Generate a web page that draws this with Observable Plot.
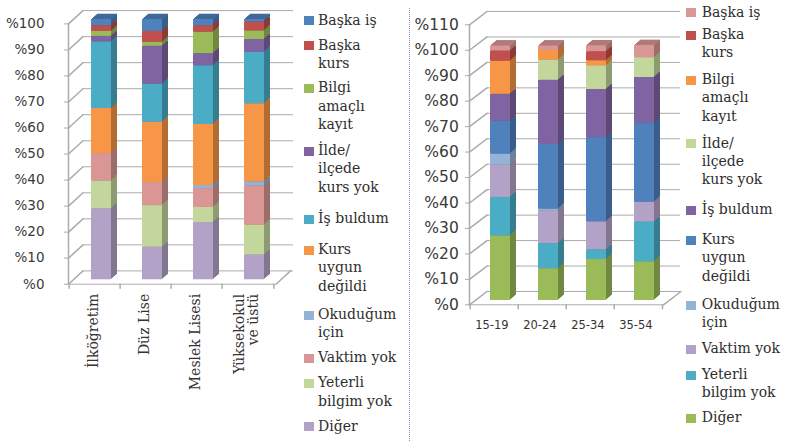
<!DOCTYPE html>
<html><head><meta charset="utf-8">
<script src="https://cdn.jsdelivr.net/npm/d3@7"></script>
<script src="https://cdn.jsdelivr.net/npm/@observablehq/plot@0.6"></script>
<style>
body{margin:0;background:#fff;}
#root{position:relative;width:795px;height:441px;overflow:hidden;background:#fff;}
#root svg{position:absolute;top:0;overflow:visible;}
.sq{position:absolute;width:10px;height:9px;}
.lt{position:absolute;font-family:"DejaVu Serif";font-size:14px;line-height:18.3px;color:#2e2e2e;white-space:pre;}
.sep{position:absolute;left:409px;top:8px;height:433px;border-left:1px dotted #9a86c8;}
</style></head><body><div id="root"></div>
<script>
// Stack order, bottom to top
const seriesNames = ["Diğer","Yeterli bilgim yok","Vaktim yok","Okuduğum için","Kurs uygun değildi","İş buldum","İlde/ilçede kurs yok","Bilgi amaçlı kayıt","Başka kurs","Başka iş"];
const legendLabels = ["Diğer","Yeterli\nbilgim yok","Vaktim yok","Okuduğum\niçin","Kurs\nuygun\ndeğildi","İş buldum","İlde/\nilçede\nkurs yok","Bilgi\namaçlı\nkayıt","Başka\nkurs","Başka iş"];

// Left chart: education
const eduCategories = ["İlköğretim","Düz Lise","Meslek Lisesi","Yüksekokul ve üstü"];
const eduLabels = ["İlköğretim","Düz Lise","Meslek Lisesi","Yüksekokul\nve üstü"];
const eduIlkogretim = [27.3,10.6,10.6,0,17.3,25.6,2.1,1.9,2.2,2.4];
const eduDuzLise    = [12.5,16.0,8.9,0,23.1,14.6,14.6,1.5,4.2,4.6];
const eduMeslek     = [22.0,5.8,7.2,1.2,23.5,22.5,4.7,8.2,2.5,2.4];
const eduYuksek     = [9.5,11.5,15.0,1.6,30.0,19.8,4.9,3.3,3.4,1.0];
const eduColors = ["#B3A2C7","#C3D69B","#D99694","#95B3D7","#F79646","#4BACC6","#8064A2","#9BBB59","#C0504D","#4F81BD"];
const eduTicks = [0,10,20,30,40,50,60,70,80,90,100];

// Right chart: age
const ageCategories = ["15-19","20-24","25-34","35-54"];
const age1519 = [25.4,15.1,12.7,4.3,12.9,10.6,0,13.0,4.0,2.0];
const age2024 = [12.5,9.8,12.8,0.8,25.4,25.2,7.9,3.8,0,1.8];
const age2534 = [16.1,3.8,11.0,0,33.1,18.9,9.3,2.0,3.5,2.4];
const age3554 = [15.2,15.6,7.8,0,30.9,18.1,7.8,0,0,4.8];
const ageColors = ["#9BBB59","#4BACC6","#B3A2C7","#95B3D7","#4F81BD","#8064A2","#C3D69B","#F79646","#C0504D","#D99694"];
const ageTicks = [0,10,20,30,40,50,60,70,80,90,100,110];

function buildRows(cats, valueArrays, colors) {
  const rows = [];
  cats.forEach((c, i) => valueArrays[i].forEach((v, j) => rows.push({
    cat: c, series: seriesNames[j], value: v, color: colors[j],
    side: d3.color(colors[j]).darker(0.9).formatHex()
  })));
  return rows;
}
function buildTops(cats, valueArrays, colors) {
  return cats.map((c, i) => {
    const vals = valueArrays[i];
    let j = vals.length - 1; while (j > 0 && !vals[j]) j--;
    return {cat: c, total: d3.sum(vals), top: d3.color(colors[j]).darker(0.55).formatHex()};
  });
}

const lineShape = {draw(ctx, l) { ctx.moveTo(0, 0); ctx.lineTo(0, -l); }};

function chart3D(cfg) {
  const {cats, labels, rows, tops, ticks, yMax, width, height, marginLeft, marginRight, marginTop, marginBottom,
    padding, frontDy, wallDx, wallDy, axisX, floorRightX, gridRightX, labelRightX, tickFontSize,
    xLabelMode, xLabelDy, xLabelDx, xLabelFont, xLabelSize} = cfg;
  const grid = "#ABABAB";
  const n = cats.length;
  const W = width - marginLeft - marginRight;
  const step = W / (n + padding);
  const start0 = marginLeft + (W - step * (n - padding)) / 2;
  const center0 = start0 + step * (1 - padding) / 2;
  const frameRight = width - marginRight;
  const plotH = height - marginTop - marginBottom;
  const L = Math.hypot(wallDx, wallDy);
  const ang = Math.atan2(wallDx, -wallDy) * 180 / Math.PI;
  const depth = 6, ratio = 0.85;
  const marks = [
    Plot.ruleY(ticks, {y: d => d, dy: frontDy + wallDy, insetLeft: axisX + wallDx - marginLeft, insetRight: frameRight - gridRightX, stroke: grid}),
    Plot.vector(ticks, {y: d => d, frameAnchor: "left", dx: axisX - marginLeft, dy: frontDy, length: L, rotate: ang, anchor: "start", shape: lineShape, stroke: grid}),
    Plot.vector([0], {y: d => d, frameAnchor: "right", dx: floorRightX - frameRight, dy: frontDy, length: L, rotate: ang, anchor: "start", shape: lineShape, stroke: grid}),
    Plot.ruleY([0], {y: d => d, dy: frontDy, insetLeft: axisX - marginLeft, insetRight: frameRight - floorRightX, stroke: grid}),
    Plot.ruleY(ticks, {y: d => d, dy: frontDy, insetLeft: axisX - 4 - marginLeft, insetRight: frameRight - axisX, stroke: grid}),
    Plot.vector([0], {y: d => d, frameAnchor: "left", dx: axisX - marginLeft, dy: frontDy, length: plotH, rotate: 0, anchor: "start", shape: lineShape, stroke: grid}),
    Plot.vector(cats, {x: d => d, y: 0, dx: axisX - center0, dy: frontDy, length: 4, rotate: 180, anchor: "start", shape: lineShape, stroke: grid}),
    Plot.vector([cats[n - 1]], {x: d => d, y: 0, dx: axisX - center0 + step, dy: frontDy, length: 4, rotate: 180, anchor: "start", shape: lineShape, stroke: grid}),
    Plot.text(ticks, {y: d => d, text: d => "%" + d, frameAnchor: "left", textAnchor: "end", dx: labelRightX - marginLeft, dy: frontDy, fontFamily: "DejaVu Sans", fontSize: tickFontSize, fill: "#3a3a3a"})
  ];
  for (let k = depth; k >= 1; k--) marks.push(Plot.barY(rows, {x: "cat", y: "value", fill: "side", dx: k, dy: -k * ratio}));
  for (let k = 1; k <= depth; k++) marks.push(Plot.tickY(tops, {x: "cat", y: "total", stroke: "top", strokeWidth: 1.2, dx: k, dy: -k * ratio}));
  marks.push(Plot.barY(rows, {x: "cat", y: "value", fill: "color"}));
  const lx = axisX - center0 + step / 2 + xLabelDx;
  if (xLabelMode === "rotate") {
    marks.push(Plot.text(cats, {x: d => d, y: 0, text: (d, i) => labels[i], rotate: -90, textAnchor: "end", dx: lx, dy: frontDy + xLabelDy, fontFamily: xLabelFont, fontSize: xLabelSize, fill: "#333"}));
  } else {
    marks.push(Plot.text(cats, {x: d => d, y: 0, text: (d, i) => labels[i], dx: lx, dy: frontDy + xLabelDy, fontFamily: xLabelFont, fontSize: xLabelSize, fill: "#333"}));
  }
  return Plot.plot({
    width, height, marginLeft, marginRight, marginTop, marginBottom,
    x: {type: "band", domain: cats, padding, axis: null},
    y: {domain: [0, yMax], axis: null},
    color: {type: "identity"},
    style: {background: "transparent", overflow: "visible", fontFamily: "DejaVu Serif"},
    marks
  });
}

function addLegend(root, squareX, textX, colors, centers) {
  for (let j = seriesNames.length - 1, e = 0; j >= 0; j--, e++) {
    const sq = document.createElement("div");
    sq.className = "sq";
    sq.style.left = squareX + "px"; sq.style.top = (centers[e] - 4.5) + "px"; sq.style.background = colors[j];
    root.appendChild(sq);
    const t = document.createElement("div");
    t.className = "lt";
    t.style.left = textX + "px"; t.style.top = (centers[e] - 10) + "px";
    t.textContent = legendLabels[j];
    root.appendChild(t);
  }
}

const root = document.getElementById("root");
const eduVals = [eduIlkogretim, eduDuzLise, eduMeslek, eduYuksek];
const left = chart3D({
  cats: eduCategories, labels: eduLabels, rows: buildRows(eduCategories, eduVals, eduColors), tops: buildTops(eduCategories, eduVals, eduColors),
  ticks: eduTicks, yMax: 100, width: 297, height: 441, marginLeft: 59, marginRight: 0, marginTop: 19, marginBottom: 161.7,
  padding: 0.6, frontDy: 4.4, wallDx: 14.5, wallDy: -13.3, axisX: 68, floorRightX: 275.5, gridRightX: 293, labelRightX: 44,
  tickFontSize: 13.5, xLabelMode: "rotate", xLabelDy: 9.6, xLabelDx: -1, xLabelFont: "DejaVu Serif", xLabelSize: 14
});
left.style.left = "0px";
root.appendChild(left);

const ageVals = [age1519, age2024, age2534, age3554];
const right = chart3D({
  cats: ageCategories, labels: ageCategories, rows: buildRows(ageCategories, ageVals, ageColors), tops: buildTops(ageCategories, ageVals, ageColors),
  ticks: ageTicks, yMax: 110, width: 280, height: 441, marginLeft: 51, marginRight: 7.5, marginTop: 20, marginBottom: 141,
  padding: 0.586, frontDy: 4.3, wallDx: 17.5, wallDy: -13.3, axisX: 59, floorRightX: 253, gridRightX: 270, labelRightX: 48.3,
  tickFontSize: 15.5, xLabelMode: "flat", xLabelDy: 20.7, xLabelDx: -2.5, xLabelFont: "DejaVu Sans", xLabelSize: 11.5
});
right.style.left = "410px";
root.appendChild(right);

const sep = document.createElement("div"); sep.className = "sep"; root.appendChild(sep);

addLegend(root, 303.5, 318, eduColors, [20.7,45.7,88.3,151,219.3,250,315,358.3,383.3,426.7]);
addLegend(root, 686, 701.7, ageColors, [12.7,35,80,143.5,210,240,305,349.3,375,418.3]);
</script></body></html>
